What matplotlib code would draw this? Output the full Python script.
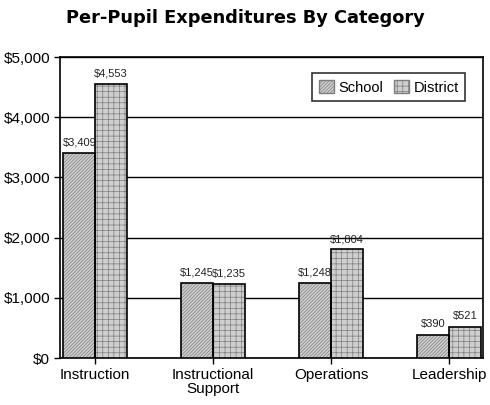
import numpy as np
from matplotlib import pyplot as plt
from matplotlib.patches import Patch

categories = ["Instruction", "Instructional\nSupport", "Operations", "Leadership"]
school = [3409, 1245, 1248, 390]
district = [4553, 1235, 1804, 521]
yticks = [0, 1000, 2000, 3000, 4000, 5000]

plt.rcParams['font.family'] = ['Liberation Sans', 'DejaVu Sans']
plt.rcParams['hatch.linewidth'] = 0.5

fig = plt.figure(figsize=(4.9, 4.05), dpi=100)
ax = fig.add_axes([0.122, 0.116, 0.864, 0.743])

x = np.arange(len(categories))
w = 0.27
hatch_col = '#7e7e7e'
face = '#cfcfcf'
school_hatch = '//////////'
district_hatch = '+++'

for offs, vals, hatch in [(-w / 2, school, school_hatch),
                          (w / 2, district, district_hatch)]:
  # hatch layer, then outline layer on top
  ax.bar(x + offs, vals, w, color=face, edgecolor=hatch_col,
         hatch=hatch, linewidth=0, zorder=3)
  ax.bar(x + offs, vals, w, fill=False, edgecolor='black',
         linewidth=1.2, zorder=4)
  for xi, v in zip(x + offs, vals):
    ax.text(xi, v + 90, f"${v:,}", ha='center', va='bottom',
            fontsize=8, color='#222222', zorder=5)

ax.set_xlim(-0.3, 3.29)
ax.set_ylim(0, 5000)
ax.set_yticks(yticks)
ax.set_yticklabels([f"${v:,}" for v in yticks], fontsize=11)
ax.set_xticks(x)
ax.set_xticklabels(categories, fontsize=11, linespacing=1.0)
ax.tick_params(axis='both', direction='out', length=4, width=1, pad=3)
ax.yaxis.grid(True, color='black', linewidth=1)
ax.set_axisbelow(True)
for s in ax.spines.values():
  s.set_linewidth(1.2)

handles = [
    Patch(facecolor=face, edgecolor=hatch_col, hatch=school_hatch, label='School'),
    Patch(facecolor=face, edgecolor=hatch_col, hatch=district_hatch, label='District'),
]
leg = ax.legend(handles=handles, loc='upper right', ncol=2, fontsize=10.5,
                frameon=True, fancybox=False, edgecolor='black',
                handlelength=1.0, handleheight=1.0, handletextpad=0.3,
                columnspacing=0.8, borderpad=0.45,
                bbox_to_anchor=(0.975, 0.97))
leg.get_frame().set_linewidth(1.2)

fig.text(0.5, 0.955, "Per-Pupil Expenditures By Category", ha='center',
         va='center', fontsize=12.8, fontweight='bold', family='DejaVu Sans')

plt.savefig("out.png", dpi=100)
